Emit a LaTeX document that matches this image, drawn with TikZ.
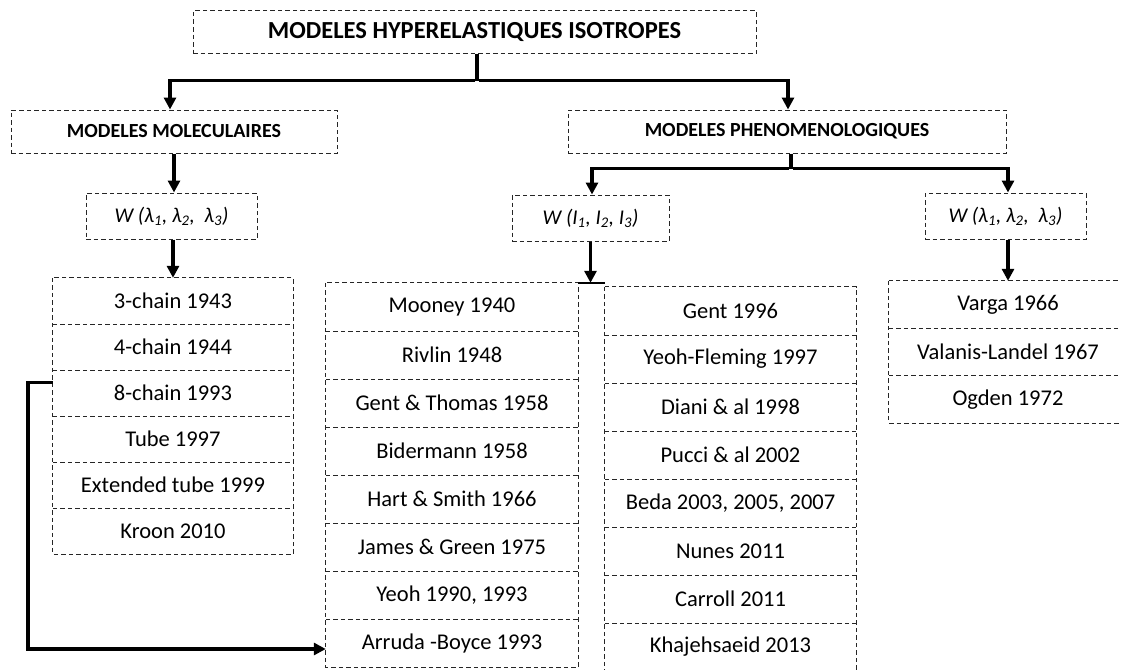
\documentclass[tikz,border=0pt]{standalone}
\usepackage{fontspec}
\setmainfont{Carlito}
\usetikzlibrary{arrows.meta}
\begin{document}
\begin{tikzpicture}[x=1pt,y=-1pt,
  dline/.style={draw=black!85, dash pattern=on 4.5pt off 3pt, line width=1pt},
  dbox/.style={dline, inner sep=0pt},
  ttl/.style={dbox, font=\fontsize{24.5}{28}\selectfont\bfseries},
  hdr/.style={dbox, font=\fontsize{20}{24}\selectfont\bfseries},
  wbox/.style={dbox, font=\fontsize{21}{25}\selectfont\itshape},
  item/.style={inner sep=0pt, font=\fontsize{22.5}{27}\selectfont},
  conn/.style={line width=3.5pt},
  arr/.style={conn, -{Triangle[width=12pt,length=12pt]}}
]
\useasboundingbox (0,0) rectangle (1121,669);

% headers
\node[ttl, minimum width=563, minimum height=43] (title) at (474.5,32.5) {MODELES HYPERELASTIQUES ISOTROPES};
\node[hdr, minimum width=326, minimum height=43] (mm) at (174,131.5) {MODELES MOLECULAIRES};
\node[hdr, minimum width=438, minimum height=43] (mp) at (787,131.5) {MODELES PHENOMENOLOGIQUES};

\node[wbox, minimum width=171, minimum height=46] (wl) at (171.5,216) {W (λ\textsubscript{1}, λ\textsubscript{2},~ λ\textsubscript{3})};
\node[wbox, minimum width=157, minimum height=46] (wi) at (590.5,218) {W (I\textsubscript{1}, I\textsubscript{2}, I\textsubscript{3})};
\node[wbox, minimum width=161, minimum height=46] (wr) at (1005.5,216) {W (λ\textsubscript{1}, λ\textsubscript{2},~ λ\textsubscript{3})};

% left column
\foreach \t [count=\i] in {3-chain 1943, 4-chain 1944, 8-chain 1993, Tube 1997, Extended tube 1999, Kroon 2010}
  \node[item, minimum width=240, minimum height=46] (l\i) at (173,{278+46*\i-23}) {\t};
\draw[dline] (l1.north west) rectangle (l6.south east);
\foreach \i in {1,...,5} \draw[dline] (l\i.south west) -- (l\i.south east);

% column A
\foreach \t [count=\i] in {Mooney 1940, Rivlin 1948, Gent \& Thomas 1958, Bidermann 1958, Hart \& Smith 1966, James \& Green 1975, {Yeoh 1990, 1993}, Arruda -Boyce 1993}
  \node[item, minimum width=252, minimum height=48] (a\i) at (452,{283+48*\i-24}) {\t};
\draw[dline] (a1.north west) rectangle (a8.south east);
\foreach \i in {1,...,7} \draw[dline] (a\i.south west) -- (a\i.south east);

% column B
\foreach \t [count=\i] in {Gent 1996, Yeoh-Fleming 1997, Diani \& al 1998, Pucci \& al 2002, {Beda 2003, 2005, 2007}, Nunes 2011, Carroll 2011, Khajehsaeid 2013}
  \node[item, minimum width=251, minimum height=48] (b\i) at (730.5,{287+48*\i-24}) {\t};
\draw[dline] (b1.north west) rectangle (b8.south east);
\foreach \i in {1,...,7} \draw[dline] (b\i.south west) -- (b\i.south east);

% right column
\foreach \t [count=\i] in {Varga 1966, Valanis-Landel 1967, Ogden 1972}
  \node[item, minimum width=238, minimum height=47.3] (r\i) at (1008,{281+47.3*\i-23.65}) {\t};
\draw[dline] (r1.north west) rectangle (r3.south east);
\foreach \i in {1,2} \draw[dline] (r\i.south west) -- (r\i.south east);

% connectors
\draw[conn] ([xshift=2.5pt]title.south) -- ++(0,26) coordinate (t1);
\draw[arr] ([xshift=-1.75pt]t1) -| ([xshift=-4pt]mm.north);
\draw[arr] ([xshift=1.75pt]t1) -| ([xshift=1pt]mp.north);

\draw[arr] (mm.south) -- (mm.south |- wl.north);
\draw[arr] (wl.south -| l1.north) -- (l1.north);

\draw[conn] ([xshift=4pt]mp.south) -- ++(0,15) coordinate (p1);
\draw[arr] ([xshift=-1.75pt]p1) -| ([xshift=1.5pt]wi.north);
\draw[arr] ([xshift=1.75pt]p1) -| ([xshift=2.5pt]wr.north);

\draw[arr] (wi.south) -- (wi.south |- a1.north);
\draw[line width=2pt] (a1.north east) -- (a1.north east -| b1.north west);

\draw[arr] (wr.south -| r1.north) -- (r1.north);

\draw[arr] ([yshift=10.5pt]l3.west) -- ++(-25,0) |- ([yshift=-6pt]a8.west);
\end{tikzpicture}
\end{document}
